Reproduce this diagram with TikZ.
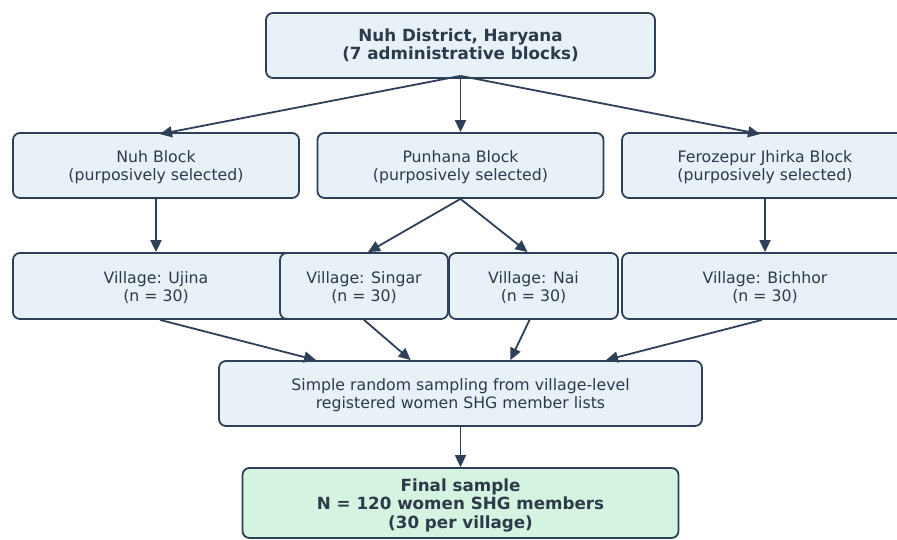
\documentclass[tikz,border=0pt]{standalone}
\usepackage{fontspec}
\setmainfont{DejaVu Sans}
\usetikzlibrary{arrows.meta,calc}
\definecolor{edgec}{HTML}{2E4057}
\definecolor{boxfill}{HTML}{E8F0F8}
\definecolor{greenfill}{HTML}{D4F4E1}
\definecolor{txtc}{HTML}{2C3A4A}
\newcommand{\lowR}{\rule{0pt}{16bp}}
\newcommand{\lowB}{\rule{0pt}{17bp}}
\tikzset{
  box/.style={draw=edgec, line width=1.8bp, fill=boxfill, rounded corners=7bp,
    align=center, inner sep=0pt, text=txtc, font=\fontsize{15.8}{18}\selectfont},
  boldbox/.style={box, font=\fontsize{16.8}{18.5}\selectfont\bfseries},
  arr/.style={draw=edgec, line width=1.8bp, -{Triangle[length=12bp,width=11bp]}}
}
\begin{document}
\begin{tikzpicture}[x=1bp,y=-1bp]
\clip (0,0) rectangle (897,540);
\fill[white] (0,0) rectangle (897,540);
\node[boldbox, minimum width=389bp, minimum height=65bp] (top) at (460.5,45.5) {Nuh District, Haryana\\(7 administrative blocks)};
\node[box, minimum width=286bp, minimum height=65bp] (nuh) at (156,165.5) {\lowR Nuh Block\\(purposively selected)};
\node[box, minimum width=286bp, minimum height=65bp] (pun) at (460.5,165.5) {\lowR Punhana Block\\(purposively selected)};
\node[box, minimum width=286bp, minimum height=65bp] (fer) at (765,165.5) {\lowR Ferozepur Jhirka Block\\(purposively selected)};
\node[box, minimum width=286bp, minimum height=66bp] (uji) at (156,286) {\lowR Village: Ujina\\(n = 30)};
\node[box, minimum width=168bp, minimum height=66bp] (sin) at (364,286) {\lowR Village: Singar\\(n = 30)};
\node[box, minimum width=169bp, minimum height=66bp] (nai) at (533.5,286) {\lowR Village: Nai\\(n = 30)};
\node[box, minimum width=286bp, minimum height=66bp] (bic) at (765,286) {\lowR Village: Bichhor\\(n = 30)};
\node[box, minimum width=483bp, minimum height=65bp] (samp) at (460.5,393.5) {\lowR Simple random sampling from village-level\\registered women SHG member lists};
\node[boldbox, fill=greenfill, minimum width=436bp, minimum height=70bp] (fin) at (460.5,503) {\lowB Final sample\\N = 120 women SHG members\\(30 per village)};
\coordinate (tS) at ($(top.south)+(0,-3)$);
\draw[arr] (tS) -- ([xshift=4pt,yshift=-2pt]nuh.north);
\draw[arr] (tS) -- (pun.north);
\draw[arr] (tS) -- ([xshift=-5pt,yshift=-2pt]fer.north);
\draw[arr] (nuh.south) -- (uji.north);
\draw[arr] (pun.south) -- ([xshift=4pt]sin.north);
\draw[arr] (pun.south) -- ([xshift=-6pt]nai.north);
\draw[arr] (fer.south) -- (bic.north);
\draw[arr] ([xshift=4pt]uji.south) -- ([xshift=-145pt]samp.north);
\draw[arr] (sin.south) -- ([xshift=-50pt]samp.north);
\draw[arr] ([xshift=-4pt]nai.south) -- ([xshift=50pt]samp.north);
\draw[arr] ([xshift=-3pt]bic.south) -- ([xshift=146pt]samp.north);
\draw[arr] (samp.south) -- (fin.north);
\end{tikzpicture}
\end{document}
